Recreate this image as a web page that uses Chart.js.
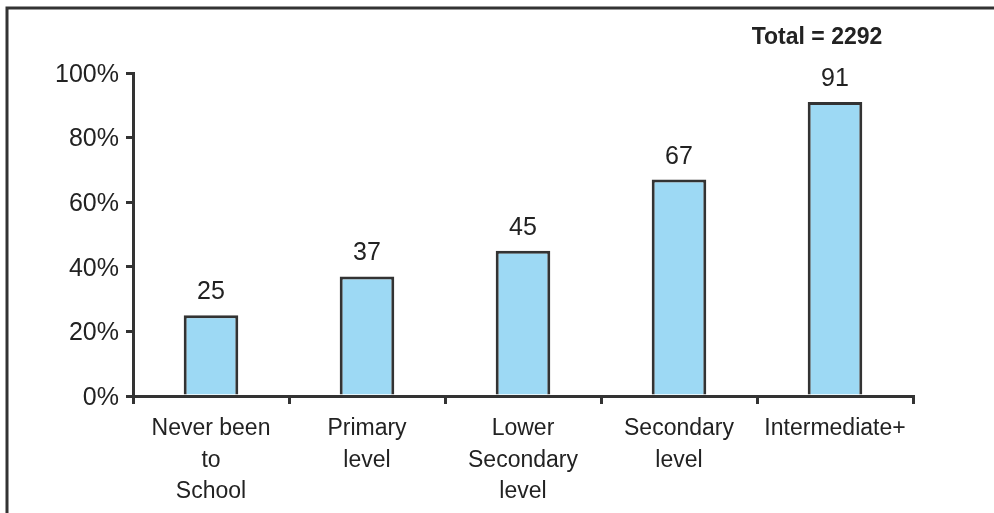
<!DOCTYPE html>
<html>
<head>
<meta charset="utf-8">
<script src="https://cdn.jsdelivr.net/npm/chart.js@4.4.1/dist/chart.umd.min.js"></script>
<style>
  html, body { margin: 0; padding: 0; background: #fff; }
  #wrap { width: 994px; height: 513px; position: relative; }
</style>
</head>
<body>
<div id="wrap"><canvas id="chart"></canvas></div>
<script>
// Education level categories (multi-line labels)
const categories = [
  ['Never been', 'to', 'School'],
  ['Primary', 'level'],
  ['Lower', 'Secondary', 'level'],
  ['Secondary', 'level'],
  ['Intermediate+']
];
const percentValues = [25, 37, 45, 67, 91];
const totalLabel = 'Total = 2292';

const AXIS_COLOR = '#333333';
const FONT = '"Liberation Sans", Arial, sans-serif';

// Outer frame (top and left edges only) and the total note
const framePlugin = {
  id: 'frame',
  beforeDraw(chart) {
    const ctx = chart.ctx;
    ctx.save();
    ctx.strokeStyle = AXIS_COLOR;
    ctx.lineWidth = 3;
    ctx.beginPath();
    ctx.moveTo(994, 8);
    ctx.lineTo(7, 8);
    ctx.lineTo(7, 513);
    ctx.stroke();
    ctx.restore();
  },
  afterDraw(chart) {
    const ctx = chart.ctx;
    ctx.save();
    ctx.font = 'bold 23px ' + FONT;
    ctx.fillStyle = '#222';
    ctx.textAlign = 'center';
    ctx.textBaseline = 'middle';
    ctx.fillText(totalLabel, 817, 38);
    ctx.restore();
  }
};

// Value labels above each bar
const valueLabelPlugin = {
  id: 'valueLabels',
  afterDatasetsDraw(chart) {
    const ctx = chart.ctx;
    const meta = chart.getDatasetMeta(0);
    ctx.save();
    ctx.font = '25px ' + FONT;
    ctx.fillStyle = '#222';
    ctx.textAlign = 'center';
    ctx.textBaseline = 'alphabetic';
    meta.data.forEach((bar, i) => {
      ctx.fillText(String(percentValues[i]), bar.x, bar.y - 16);
    });
    ctx.restore();
  }
};

const ctx = document.getElementById('chart').getContext('2d');
new Chart(ctx, {
  type: 'bar',
  data: {
    labels: categories,
    datasets: [{
      data: percentValues,
      backgroundColor: '#9dd9f4',
      borderColor: AXIS_COLOR,
      borderWidth: 3,
      categoryPercentage: 1,
      barPercentage: 0.35
    }]
  },
  options: {
    responsive: true,
    maintainAspectRatio: false,
    animation: false,
    devicePixelRatio: 1,
    layout: {
      padding: { top: 73, right: 81, bottom: 0, left: 0 }
    },
    plugins: {
      legend: { display: false },
      tooltip: { enabled: false }
    },
    scales: {
      x: {
        offset: true,
        grid: {
          offset: true,
          drawOnChartArea: false,
          drawTicks: true,
          tickLength: 8,
          color: AXIS_COLOR,
          lineWidth: 3
        },
        border: { display: true, color: AXIS_COLOR, width: 3 },
        ticks: {
          color: '#222',
          font: { family: FONT, size: 23, lineHeight: 1.37 },
          padding: 9,
          maxRotation: 0,
          autoSkip: false
        },
        afterFit(scale) { scale.height = 117; }
      },
      y: {
        min: 0,
        max: 100,
        grid: {
          drawOnChartArea: false,
          drawTicks: true,
          tickLength: 7,
          color: AXIS_COLOR,
          lineWidth: 3
        },
        border: { display: true, color: AXIS_COLOR, width: 3 },
        ticks: {
          stepSize: 20,
          color: '#222',
          font: { family: FONT, size: 25 },
          padding: 7,
          labelOffset: 2,
          callback: v => v + '%'
        },
        afterFit(scale) { scale.width = 133; }
      }
    }
  },
  plugins: [framePlugin, valueLabelPlugin]
});
</script>
</body>
</html>
